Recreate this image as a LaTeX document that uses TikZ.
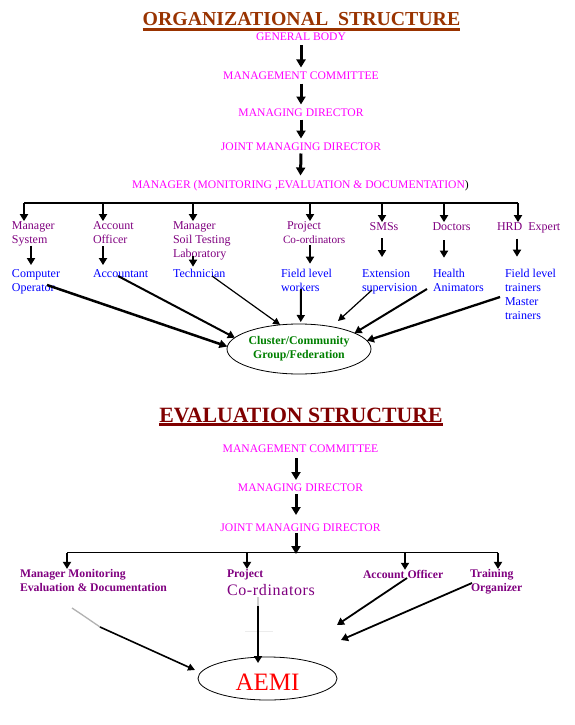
\documentclass[tikz,border=0pt]{standalone}
\usepackage{fontspec}
\setmainfont{Liberation Serif}
\usetikzlibrary{arrows.meta,shapes.geometric}
\definecolor{mag}{HTML}{FF00FF}
\definecolor{pur}{HTML}{800080}
\definecolor{blu}{HTML}{0000FF}
\definecolor{grn}{HTML}{008000}
\definecolor{brn}{HTML}{993300}
\definecolor{drd}{HTML}{800000}
\definecolor{redt}{HTML}{FF0000}
\begin{document}
\begin{tikzpicture}[x=1pt,y=-1pt,
  magtext/.style={inner sep=0pt,outer sep=0pt,text=mag,font=\fontsize{11.6}{14}\selectfont,text height=8pt,text depth=0pt},
  purtext/.style={inner sep=0pt,outer sep=0pt,text=pur,font=\fontsize{12}{14}\selectfont,align=left,anchor=base west},
  blutext/.style={inner sep=0pt,outer sep=0pt,text=blu,font=\fontsize{12}{14}\selectfont,align=left,anchor=base west},
  boldpur/.style={inner sep=0pt,outer sep=0pt,text=pur,font=\bfseries\fontsize{11.7}{14}\selectfont,align=left,anchor=base west},
  titletext/.style={inner sep=0pt,outer sep=0pt,anchor=base,font=\bfseries\fontsize{19.8}{22}\selectfont},
  bigarr/.style={line width=3pt,-{Triangle[length=8pt,width=9pt]}},
  midarr/.style={line width=2pt,-{Triangle[length=7pt,width=8pt]}},
  thkarr/.style={line width=2.5pt,-{Triangle[length=8pt,width=8pt]}},
  thnarr/.style={line width=1.2pt,-{Triangle[length=7pt,width=7pt]}},
  barline/.style={line width=1.5pt},
  oval/.style={ellipse,draw,line width=0.8pt,inner sep=0pt,outer sep=0pt}
]
\useasboundingbox (0,0) rectangle (575,725);
\fill[white] (0,0) rectangle (575,725);

% ---------------- ORGANIZATIONAL STRUCTURE ----------------
\node[titletext,text=brn] (t1) at (301.5,26) {ORGANIZATIONAL\ \ STRUCTURE};
\draw[brn,line width=2.5pt] ([yshift=-3.5pt]t1.base west) -- ([yshift=-3.5pt]t1.base east);

\node[magtext] (gb)  at (301,37)  {GENERAL BODY};
\node[magtext] (mc)  at (301,75)  {MANAGEMENT COMMITTEE};
\node[magtext] (md)  at (301,112) {MANAGING DIRECTOR};
\node[magtext] (jmd) at (301,146) {JOINT MANAGING DIRECTOR};
\node[magtext] (mgr) at (300.5,184) {MANAGER (MONITORING ,EVALUATION \& DOCUMENTATION{\color{black})}};

\draw[bigarr] ([yshift=-4.5pt]gb.south)  -- ([yshift=3.5pt]mc.north);
\draw[bigarr] ([yshift=-4.5pt]mc.south)  -- ([yshift=3.5pt]md.north);
\draw[bigarr] ([yshift=-3.5pt]md.south)  -- ([yshift=3.5pt]jmd.north);
\draw[bigarr] ([yshift=-3.5pt]jmd.south) -- ([yshift=4.5pt]mgr.north);

% bar
\coordinate (b1) at (24,203);
\coordinate (b2) at (103,203);
\coordinate (b3) at (193,203);
\coordinate (b4) at (310,203);
\coordinate (b5) at (382,203);
\coordinate (b6) at (444,203);
\coordinate (b7) at (518,203);
\draw[barline] (b1) -- (b7);

% purple row (base = baseline of last line)
\node[purtext] (ms)  at (12,243)  {Manager\\System};
\node[purtext] (ao)  at (93,243)  {Account\\Officer};
\node[purtext] (st)  at (173,257) {Manager\\Soil Testing\\Laboratory};
\node[purtext] (pc)  at (283,243) {\hspace*{4pt}Project\\{\fontsize{11.2}{14}\selectfont Co-ordinators}};
\node[purtext,anchor=base] (sm) at (384,230) {SMSs};
\node[purtext,anchor=base] (dr) at (451.5,230) {Doctors};
\node[purtext] (hrd) at (497,230) {HRD\ \ Expert};

\draw[midarr] (b1) -- (b1 |- ms.north);
\draw[midarr] (b2) -- (b2 |- ao.north);
\draw[midarr] (b3) -- (b3 |- st.north);
\draw[midarr] (b4) -- (b4 |- pc.north);
\draw[midarr] (b5) -- (b5 |- sm.north);
\draw[midarr] (b6) -- (b6 |- dr.north);
\draw[midarr] (b7) -- (b7 |- hrd.north);

% blue row
\node[blutext] (co)  at (12,291)  {Computer\\Operator};
\node[blutext] (acc) at (93,277)  {Accountant};
\node[blutext] (te)  at (173,277) {Technician};
\node[blutext] (fw)  at (281,291) {Field level\\workers};
\node[blutext] (es)  at (362,291) {Extension\\supervision};
\node[blutext] (ha)  at (433,291) {Health\\Animators};
\node[blutext] (ft)  at (505,319) {Field level\\trainers\\Master\\trainers};

\coordinate (c1) at (31,0);
\coordinate (c2) at (103,0);
\coordinate (c3) at (193,0);
\coordinate (c4) at (310,0);
\coordinate (c5) at (382,0);
\coordinate (c6) at (444,0);
\coordinate (c7) at (517,0);
\draw[midarr,shorten >=4pt] (c1 |- ms.south) -- (c1 |- co.north);
\draw[midarr,shorten <=3pt,shorten >=4pt] (c2 |- ao.south) -- (c2 |- acc.north);
\draw[midarr,shorten <=-4pt,shorten >=2pt] (c3 |- st.south) -- (c3 |- te.north);
\draw[midarr,shorten <=2pt,shorten >=5pt] (c4 |- pc.south) -- (c4 |- fw.north);
\draw[midarr,shorten <=8pt,shorten >=12pt] (c5 |- sm.south) -- (c5 |- es.north);
\draw[midarr,shorten <=10pt,shorten >=11pt] (c6 |- dr.south) -- (c6 |- ha.north);
\draw[midarr,shorten <=6pt,shorten >=12pt] (c7 |- hrd.south) -- (c7 |- ft.north);

% cluster ellipse
\node[oval,minimum width=144pt,minimum height=50pt,text=grn,align=center,
      font=\bfseries\fontsize{11.8}{14}\selectfont] (cl) at (299,349)
      {Cluster/Community\\Group/Federation};

\coordinate (coS) at (47,285);
\coordinate (accS) at (118,276);
\coordinate (teS) at (212,276);
\coordinate (fwS) at (301,289);
\coordinate (esS) at (372,290);
\coordinate (esE) at (338,321);
\coordinate (haS) at (427,289);
\coordinate (ftS) at (500,297);
\draw[thkarr] (coS) -- (cl.178);
\draw[midarr] (accS) -- (cl.170);
\draw[thnarr] (teS) -- (cl.128);
\draw[midarr] (fwS) -- ([yshift=2pt]cl.86);
\draw[thnarr] (esS) -- (esE);
\draw[midarr] (haS) -- (cl.16);
\draw[midarr,line width=2.3pt] (ftS) -- (cl.7);

% ---------------- EVALUATION STRUCTURE ----------------
\node[titletext,text=drd,font=\bfseries\fontsize{21.8}{24}\selectfont] (t2) at (301,422) {EVALUATION STRUCTURE};
\draw[drd,line width=2.5pt] ([yshift=-2.5pt]t2.base west) -- ([yshift=-2.5pt]t2.base east);

\node[magtext] (mc2)  at (300.5,448) {MANAGEMENT COMMITTEE};
\node[magtext] (md2)  at (300.5,487) {MANAGING DIRECTOR};
\node[magtext] (jmd2) at (300.5,527) {JOINT MANAGING DIRECTOR};

\coordinate (d1) at (67,552.5);
\coordinate (d2) at (247,552.5);
\coordinate (d3) at (405,552.5);
\coordinate (d4) at (498,552.5);
\coordinate (dm) at (296,554);
\draw[bigarr] ([xshift=-4.5pt,yshift=-6pt]mc2.south) -- ([xshift=-4.5pt,yshift=3pt]md2.north);
\draw[bigarr] ([xshift=-4.5pt,yshift=-3pt]md2.south) -- ([xshift=-4.5pt,yshift=8pt]jmd2.north);
\draw[bigarr] ([xshift=-4.5pt,yshift=-2pt]jmd2.south) -- (dm);
\draw[barline] (d1) -- (d4);

\node[boldpur] (mm)  at (20,591)  {Manager Monitoring\\Evaluation \& Documentation};
\node[boldpur] (pj)  at (227,577) {Project};
\node[inner sep=0pt,outer sep=0pt,anchor=base west,text=pur,
      font=\fontsize{16}{18}\selectfont\addfontfeature{LetterSpace=4}] (cr) at (227,595) {Co-rdinators};
\node[boldpur] (ao2) at (363,578) {Account Officer};
\node[boldpur] (tr)  at (470,591) {Training\\\hspace*{1pt}Organizer};

\draw[midarr,line width=1.8pt] (d1) -- (d1 |- mm.north);
\draw[midarr,line width=1.8pt] (d2) -- (d2 |- pj.north);
\draw[midarr,line width=1.8pt] (d3) -- (d3 |- ao2.north);
\draw[midarr,line width=1.8pt] (d4) -- (d4 |- tr.north);

% AEMI ellipse
\node[oval,minimum width=139pt,minimum height=43pt,text=redt,
      font=\fontsize{25}{28}\selectfont,text height=23pt,text depth=0pt] (aemi) at (267.5,678.5) {AEMI};

\coordinate (mmS) at (72,608);
\coordinate (mmB) at (100,627);
\coordinate (mmE) at (195,670);
\coordinate (pjS) at (258,597);
\coordinate (pjE) at (258,663);
\coordinate (aoS) at (407,578);
\coordinate (aoE) at (337,625);
\coordinate (trS) at (472,583);
\coordinate (trE) at (341,640);

\draw[gray!60,line width=1.3pt] (mmS) .. controls (84,616) .. (mmB);
\draw[line width=1.6pt,-{Triangle[length=7pt,width=7pt]}] (mmB) -- (mmE);
\draw[gray!15,line width=1pt] (245,631) -- (273,631);
\draw[line width=1.8pt,-{Triangle[length=7pt,width=8pt]}] (pjS) -- (pjE);
\draw[gray!40,line width=1.8pt] (pjS) -- (258,606);
\draw[line width=1.8pt,-{Triangle[length=7pt,width=8pt]}] (aoS) -- (aoE);
\draw[line width=1.8pt,-{Triangle[length=7pt,width=8pt]}] (trS) -- (trE);
\end{tikzpicture}
\end{document}
